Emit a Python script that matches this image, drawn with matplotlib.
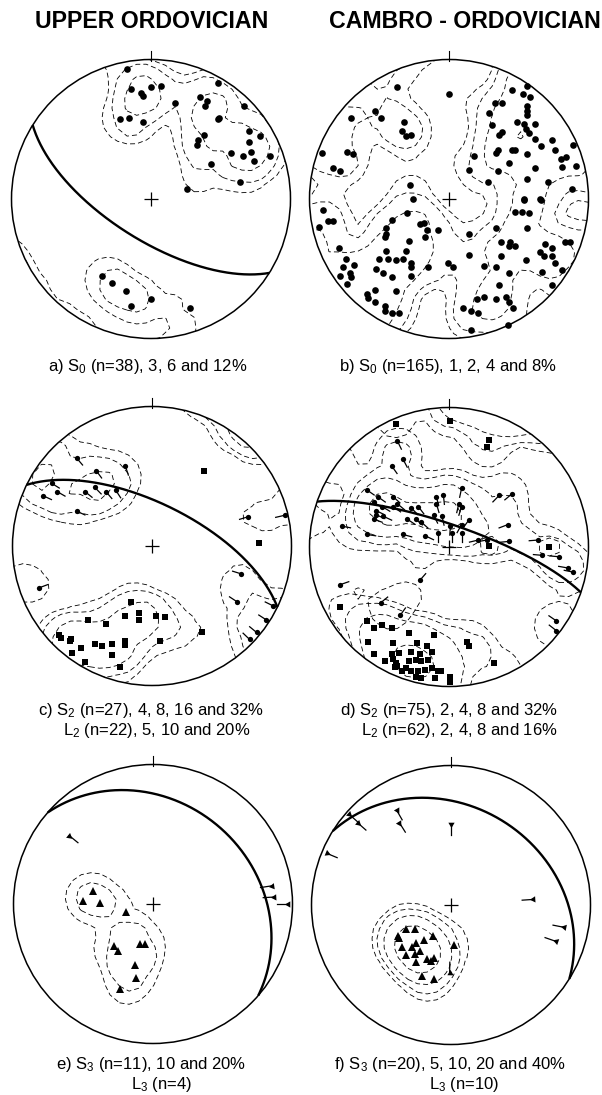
import numpy as np
import matplotlib
matplotlib.use("Agg")
import matplotlib.pyplot as plt
from matplotlib.patches import Circle

plt.rcParams['font.family'] = ['Liberation Sans', 'DejaVu Sans']
plt.rcParams['mathtext.default'] = 'regular'
plt.rcParams['lines.scale_dashes'] = False
plt.rcParams['lines.dashed_pattern'] = [3.6, 2.2]

column_titles = ["UPPER ORDOVICIAN", "CAMBRO - ORDOVICIAN"]

a_s0 = [(-0.17, 0.93), (-0.14, 0.79), (-0.07, 0.76), (-0.06, 0.74), (0.00, 0.80), (0.07, 0.81),
        (-0.22, 0.57), (-0.16, 0.58), (-0.06, 0.55), (0.17, 0.69), (0.35, 0.73), (0.40, 0.70),
        (0.39, 0.67), (0.48, 0.83), (0.49, 0.58), (0.48, 0.57), (0.38, 0.46), (0.34, 0.42),
        (0.33, 0.39), (0.67, 0.67), (0.70, 0.49), (0.78, 0.45), (0.70, 0.41), (0.72, 0.34),
        (0.57, 0.33), (0.66, 0.31), (0.74, 0.27), (0.85, 0.31), (0.43, 0.25), (0.64, 0.12),
        (0.26, 0.07), (-0.35, -0.55), (-0.28, -0.60), (-0.18, -0.66), (0.00, -0.72),
        (-0.14, -0.77), (0.28, -0.78)]

b_s0 = [(-0.37, 0.80), (0.00, 0.75), (-0.53, 0.63), (-0.49, 0.58), (-0.70, 0.58), (-0.32, 0.55),
        (-0.34, 0.49), (-0.31, 0.45), (-0.27, 0.46), (-0.73, 0.34), (-0.69, 0.32), (-0.83, 0.22),
        (-0.78, 0.20), (-0.91, 0.33), (-0.28, 0.10), (-0.26, 0.00),
        (0.45, 0.78), (0.56, 0.81), (0.53, 0.75), (0.58, 0.73), (0.33, 0.69), (0.38, 0.69),
        (0.29, 0.62), (0.56, 0.67), (0.56, 0.63), (0.56, 0.60), (0.49, 0.55), (0.54, 0.54),
        (0.55, 0.50), (0.57, 0.47), (0.62, 0.54), (0.31, 0.53), (0.36, 0.46), (0.38, 0.48),
        (0.62, 0.43), (0.66, 0.38), (0.74, 0.42), (0.76, 0.35), (0.89, 0.39), (0.34, 0.33),
        (0.35, 0.35), (0.45, 0.35), (0.47, 0.35), (0.56, 0.32), (0.18, 0.31), (0.43, 0.26),
        (0.14, 0.21), (0.35, 0.20), (0.62, 0.22), (0.80, 0.29), (0.84, 0.30), (0.81, 0.23),
        (0.91, 0.24), (0.56, 0.14), (0.28, 0.12), (0.71, 0.12), (0.88, 0.07), (0.54, 0.00),
        (0.65, 0.00),
        (-0.90, -0.08), (-0.87, -0.16), (-0.83, -0.16), (-0.93, -0.20), (-0.30, -0.10),
        (-0.41, -0.15), (-0.45, -0.21), (-0.45, -0.25), (-0.46, -0.27), (-0.21, -0.18),
        (-0.18, -0.17), (-0.16, -0.22), (-0.08, -0.22), (-0.17, -0.27), (-0.29, -0.30),
        (-0.45, -0.37), (-0.31, -0.37), (-0.79, -0.35), (-0.74, -0.43), (-0.50, -0.43),
        (-0.44, -0.43), (-0.38, -0.44), (-0.33, -0.43), (-0.27, -0.46), (-0.27, -0.49),
        (-0.15, -0.49), (-0.01, -0.46), (-0.68, -0.47), (-0.76, -0.49), (-0.71, -0.53),
        (-0.78, -0.55), (-0.70, -0.56), (-0.73, -0.61), (-0.52, -0.50), (-0.47, -0.53),
        (-0.41, -0.56), (-0.27, -0.55), (-0.53, -0.65), (-0.38, -0.66), (-0.59, -0.68),
        (-0.58, -0.71), (-0.53, -0.74), (-0.46, -0.77), (-0.46, -0.80), (-0.41, -0.82),
        (-0.36, -0.82),
        (0.54, -0.01), (0.66, -0.01), (0.47, -0.09), (0.52, -0.09), (0.57, -0.10), (0.34, -0.21),
        (0.56, -0.21), (0.14, -0.25), (0.37, -0.31), (0.44, -0.31), (0.43, -0.34), (0.47, -0.34),
        (0.69, -0.32), (0.74, -0.35), (0.83, -0.31), (0.87, -0.31), (0.14, -0.40), (0.37, -0.41),
        (0.65, -0.38), (0.68, -0.41), (0.74, -0.41), (0.55, -0.44), (0.76, -0.46), (0.81, -0.51),
        (0.03, -0.49), (0.25, -0.48), (0.34, -0.49), (0.43, -0.53), (0.67, -0.52), (0.36, -0.62),
        (0.74, -0.62), (0.20, -0.72), (0.25, -0.70), (0.34, -0.72), (0.41, -0.70), (0.43, -0.74),
        (0.46, -0.78), (0.10, -0.78), (0.16, -0.80), (0.21, -0.82), (0.42, -0.90), (0.16, -0.94)]

c_s2 = [(0.37, 0.54), (0.36, -0.62), (-0.15, -0.40), (-0.09, -0.48), (0.03, -0.50), (0.09, -0.51),
        (-0.09, -0.53), (-0.19, -0.50), (-0.33, -0.56), (-0.46, -0.53), (-0.67, -0.64),
        (-0.65, -0.66), (-0.59, -0.68), (-0.58, -0.67), (-0.51, -0.73), (-0.41, -0.70),
        (-0.36, -0.72), (-0.29, -0.70), (-0.19, -0.68), (-0.19, -0.71), (0.06, -0.68),
        (-0.57, -0.77), (-0.29, -0.78), (0.77, 0.02), (-0.48, -0.83), (-0.23, -0.87)]
c_l2 = [(-0.54, 0.63), (-0.40, 0.54), (-0.19, 0.57), (-0.72, 0.45), (-0.78, 0.36), (-0.68, 0.39),
        (-0.48, 0.39), (-0.41, 0.42), (-0.33, 0.39), (-0.26, 0.40), (-0.54, 0.25), (0.69, 0.21),
        (0.64, -0.20), (0.61, -0.40), (-0.81, -0.30), (0.95, 0.22), (0.87, -0.43), (0.75, -0.62),
        (0.70, -0.67), (0.82, -0.53)]

d_s2 = [(-0.38, 0.88), (0.01, 0.90), (0.29, 0.77), (0.27, 0.72), (0.29, 0.01), (0.72, 0.00),
        (-0.78, -0.43), (-0.59, -0.53), (-0.54, -0.58), (-0.48, -0.56), (-0.41, -0.58),
        (-0.58, -0.68), (-0.40, -0.69), (-0.29, -0.62), (-0.11, -0.63), (0.13, -0.68), (0.14, -0.71),
        (-0.54, -0.77), (-0.46, -0.82), (-0.41, -0.77), (-0.36, -0.76), (-0.27, -0.75), (-0.23, -0.69),
        (-0.21, -0.77), (-0.16, -0.71), (-0.12, -0.75), (-0.29, -0.82), (-0.24, -0.81), (-0.20, -0.82),
        (-0.15, -0.81), (-0.31, -0.87), (-0.27, -0.89), (-0.22, -0.89), (-0.17, -0.88), (-0.12, -0.87),
        (-0.08, -0.89), (-0.39, -0.86), (-0.34, -0.89), (-0.24, -0.93), (-0.20, -0.94), (0.01, -0.93),
        (0.01, -0.97), (-0.06, -0.89), (0.32, -0.83), (-0.10, -0.94), (-0.40, -0.80), (-0.38, -0.83),
        (-0.37, -0.85)]
d_l2 = [(-0.37, 0.76), (-0.33, 0.63), (-0.41, 0.58), (-0.59, 0.41), (-0.51, 0.36), (-0.40, 0.36),
        (-0.54, 0.32), (-0.48, 0.29), (-0.40, 0.29), (-0.37, 0.31), (-0.52, 0.26), (-0.52, 0.23),
        (-0.54, 0.20), (-0.47, 0.22), (-0.77, 0.15), (-0.59, 0.09), (-0.33, 0.09), (-0.27, 0.28),
        (-0.22, 0.29), (-0.30, 0.20), (-0.20, 0.18), (-0.24, 0.20), (-0.09, 0.36), (-0.04, 0.37),
        (-0.09, 0.31), (-0.11, 0.23), (-0.05, 0.22), (-0.08, 0.10), (-0.17, 0.08), (0.09, 0.42),
        (0.07, 0.31), (0.09, 0.29), (0.14, 0.19), (0.09, 0.16), (0.01, 0.15), (0.02, 0.10),
        (0.09, 0.10), (0.36, 0.37), (0.45, 0.38), (0.42, 0.16), (0.21, 0.05), (0.27, 0.05),
        (0.64, 0.05), (0.43, 0.04), (0.67, -0.06), (0.79, -0.07), (0.85, -0.15), (0.89, -0.18),
        (-0.21, -0.24), (-0.78, -0.27), (0.77, -0.53), (0.77, -0.60), (-0.49, -0.40), (-0.35, -0.49)]

e_s3 = [(-0.43, 0.09), (-0.50, 0.02), (-0.38, 0.01), (-0.19, -0.06), (-0.28, -0.30), (-0.25, -0.34),
        (-0.09, -0.29), (-0.06, -0.29), (-0.13, -0.44), (-0.12, -0.53), (-0.24, -0.61)]
e_l3 = [(-0.60, 0.49), (0.85, 0.13), (0.87, 0.05), (0.97, 0.00)]

f_s3 = [(-0.32, -0.17), (-0.26, -0.17), (-0.38, -0.22), (-0.37, -0.24), (-0.25, -0.27), (-0.19, -0.25),
        (-0.13, -0.22), (0.02, -0.29), (-0.32, -0.36), (-0.26, -0.35), (-0.25, -0.41), (-0.17, -0.39),
        (-0.12, -0.38), (-0.14, -0.40), (-0.21, -0.51), (-0.12, -0.53), (-0.28, -0.30), (-0.22, -0.33),
        (-0.35, -0.30)]
f_l3 = [(-0.73, 0.65), (-0.67, 0.59), (-0.39, 0.68), (-0.37, 0.59), (0.00, 0.58), (-0.89, 0.37),
        (0.59, 0.04), (0.81, -0.16), (0.75, -0.26), (-0.01, -0.49)]

# mean planes: dip direction, dip (degrees)
a_plane = (212, 66)
c_plane = (26, 65)
d_plane = (19, 77)
e_plane = (41, 28)
f_plane = (32, 30)

# contour levels, % per area
a_levels = [3, 6, 12]
b_levels = [1, 2, 4, 8]
c_s2_levels = [4, 8, 16, 32]
c_l2_levels = [5, 10, 20]
d_s2_levels = [2, 4, 8, 32]
d_l2_levels = [2, 4, 8, 16]
e_levels = [10, 20]
f_levels = [5, 10, 20, 40]

captions = [
    [r"a) S$_{0}$ (n=38), 3, 6 and 12%"],
    [r"b) S$_{0}$ (n=165), 1, 2, 4 and 8%"],
    [r"c) S$_{2}$ (n=27), 4, 8, 16 and 32%", r"L$_{2}$ (n=22), 5, 10 and 20%"],
    [r"d) S$_{2}$ (n=75), 2, 4, 8 and 32%", r"L$_{2}$ (n=62), 2, 4, 8 and 16%"],
    [r"e) S$_{3}$ (n=11), 10 and 20%", r"L$_{3}$ (n=4)"],
    [r"f) S$_{3}$ (n=20), 5, 10, 20 and 40%", r"L$_{3}$ (n=10)"],
]

W, H = 602, 1095
R = 139.5
LIM = 1.08
fig = plt.figure(figsize=(W / 100, H / 100), dpi=100)

grid = np.linspace(-1.2, 1.2, 36)
GX, GY = np.meshgrid(grid, grid)


def density(pts, r0=0.17):
    p = np.asarray(pts, float)
    r = np.hypot(p[:, 0], p[:, 1])
    far = r > 0.6
    ghosts = -p[far] / r[far, None] * (2 - r[far])[:, None]
    allp = np.vstack([p, ghosts])
    d = np.hypot(GX[..., None] - allp[:, 0], GY[..., None] - allp[:, 1])
    k = np.exp(-np.log(2) * (d / r0) ** 4)
    return 100.0 * k.sum(-1) / len(p)


def great_circle(dd, dip):
    dd, dip = np.radians(dd), np.radians(dip)
    strike = dd - np.pi / 2
    s = np.array([np.sin(strike), np.cos(strike), 0.0])
    dv = np.array([np.sin(dd) * np.cos(dip), np.cos(dd) * np.cos(dip), np.sin(dip)])
    t = np.linspace(0, np.pi, 300)
    v = np.outer(np.cos(t), s) + np.outer(np.sin(t), dv)
    plunge = np.arcsin(np.clip(v[:, 2], -1, 1))
    trend = np.arctan2(v[:, 0], v[:, 1])
    rr = np.sqrt(2) * np.sin((np.pi / 2 - plunge) / 2)
    return rr * np.sin(trend), rr * np.cos(trend)


def net_axes(cx, cy):
    half = LIM * R
    ax = fig.add_axes([(cx - half) / W, (H - cy - half) / H, 2 * half / W, 2 * half / H])
    ax.set_xlim(-LIM, LIM)
    ax.set_ylim(-LIM, LIM)
    ax.axis('off')
    ax.add_patch(Circle((0, 0), 1, fill=False, lw=1.1, color='black'))
    ax.plot([0, 0], [0.99, 1.06], color='black', lw=0.8)
    ax.plot(0, 0, marker='+', ms=10, mew=0.9, color='black')
    return ax


def contours(ax, pts, levels):
    cs = ax.contour(GX, GY, density(pts), levels=levels, colors='black',
                    linewidths=0.6, linestyles='dashed')
    cs.set_clip_path(Circle((0, 0), 1, transform=ax.transData))


def plane(ax, p):
    x, y = great_circle(*p)
    ax.plot(x, y, color='black', lw=1.7, solid_capstyle='butt')


def dots(ax, pts, marker='o', ms=4.8):
    p = np.asarray(pts)
    ax.plot(p[:, 0], p[:, 1], ls='none', marker=marker, ms=ms, color='black', mew=0)


def tailed(ax, pts, kind):
    for x, y in pts:
        if np.hypot(x, y) < 0.15:
            ang = -np.pi / 2
        else:
            ang = np.arctan2(-y, -x)
        L = 0.065 if kind == 'dot' else 0.08
        ax.plot([x, x + L * np.cos(ang)], [y, y + L * np.sin(ang)], color='black', lw=0.9)
        if kind == 'dot':
            ax.plot(x, y, 'o', ms=3.8, color='black', mew=0)
        else:
            ax.plot(x, y, marker=(3, 0, np.degrees(ang) - 90), ms=5.2, color='black', mew=0)


# a) upper ordovician S0
ax = net_axes(151, 199)
contours(ax, a_s0, a_levels)
plane(ax, a_plane)
dots(ax, a_s0)

# b) cambro-ordovician S0
ax = net_axes(449, 199)
contours(ax, b_s0, b_levels)
dots(ax, b_s0)

# c) S2 / L2
ax = net_axes(152, 546)
contours(ax, c_s2, c_s2_levels)
contours(ax, c_l2, c_l2_levels)
plane(ax, c_plane)
dots(ax, c_s2, marker='s', ms=4.2)
tailed(ax, c_l2, 'dot')

# d) S2 / L2
ax = net_axes(449, 547)
contours(ax, d_s2, d_s2_levels)
contours(ax, d_l2, d_l2_levels)
plane(ax, d_plane)
dots(ax, d_s2, marker='s', ms=4.2)
tailed(ax, d_l2, 'dot')

# e) S3 / L3
ax = net_axes(153, 904)
contours(ax, e_s3, e_levels)
plane(ax, e_plane)
dots(ax, e_s3, marker='^', ms=5.8)
tailed(ax, e_l3, 'tri')

# f) S3 / L3
ax = net_axes(451, 905)
contours(ax, f_s3, f_levels)
plane(ax, f_plane)
dots(ax, f_s3, marker='^', ms=5.8)
tailed(ax, f_l3, 'tri')

# column headings
fig.text(152 / W, 1 - 21 / H, column_titles[0], ha='center', va='center',
         fontsize=16.7, fontweight='bold')
fig.text(465 / W, 1 - 21 / H, column_titles[1], ha='center', va='center',
         fontsize=16.7, fontweight='bold')

# captions
cap_pos = [
    [(148, 367)], [(448, 367)],
    [(151, 710), (157, 730)], [(449, 710), (459, 730)],
    [(151, 1065), (162, 1085)], [(450, 1065), (464, 1085)],
]
for lines, pos in zip(captions, cap_pos):
    for s, (x, y) in zip(lines, pos):
        fig.text(x / W, 1 - y / H, s, ha='center', va='center', fontsize=12)

fig.savefig("out.png", dpi=100)
